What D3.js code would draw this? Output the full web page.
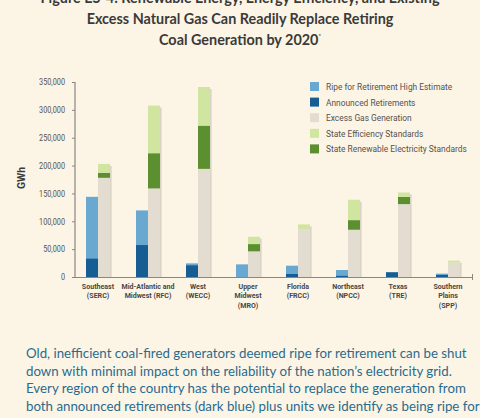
<!DOCTYPE html>
<html>
<head>
<meta charset="utf-8">
<script src="https://cdn.jsdelivr.net/npm/d3@7"></script>
<style>
  html, body { margin: 0; padding: 0; background: #fcf5e6; }
  svg { display: block; }
</style>
</head>
<body>
<div id="chart"></div>
<script>
// regions on the x axis (line breaks as in the figure)
var regions = [
  ["Southeast", "(SERC)"],
  ["Mid-Atlantic and", "Midwest (RFC)"],
  ["West", "(WECC)"],
  ["Upper", "Midwest", "(MRO)"],
  ["Florida", "(FRCC)"],
  ["Northeast", "(NPCC)"],
  ["Texas", "(TRE)"],
  ["Southern", "Plains", "(SPP)"]
];
// GWh
var ripeHigh   = [143900, 119500, 24500, 22700, 20300, 12500, 8400, 6000];
var announced  = [32900, 57300, 20900, 0, 5400, 2000, 8400, 3600];
var excessGas  = [178000, 158900, 194100, 46000, 86000, 84800, 130800, 25700];
var renewable  = [9000, 63300, 77700, 13100, 0, 17300, 13100, 0];
var efficiency = [16000, 85400, 69200, 13200, 8400, 36500, 7800, 3600];
var yTicks = [0, 50000, 100000, 150000, 200000, 250000, 300000, 350000];

var titleLines = [
  "Figure ES-4: Renewable Energy, Energy Efficiency, and Existing",
  "Excess Natural Gas Can Readily Replace Retiring",
  "Coal Generation by 2020"
];
var bodyLines = [
  "Old, inefficient coal-fired generators deemed ripe for retirement can be shut",
  "down with minimal impact on the reliability of the nation\u2019s electricity grid.",
  "Every region of the country has the potential to replace the generation from",
  "both announced retirements (dark blue) plus units we identify as being ripe for"
];

var legendItems = [
  { name: "Ripe for Retirement High Estimate", color: "#69a8d0" },
  { name: "Announced Retirements", color: "#155d93" },
  { name: "Excess Gas Generation", color: "#e3ddd1" },
  { name: "State Efficiency Standards", color: "#cfe5a0" },
  { name: "State Renewable Electricity Standards", color: "#5b8f2f" }
];

var W = 480, H = 418;
var narrow = "Roboto, 'Liberation Sans', sans-serif";
var serifless = "Lato, 'Open Sans', sans-serif";

var svg = d3.select("#chart").append("svg")
  .attr("xmlns", "http://www.w3.org/2000/svg")
  .attr("width", W)
  .attr("height", H);

svg.append("rect").attr("width", W).attr("height", H).attr("fill", "#fcf5e6");

// squeeze text horizontally about its anchor x so it looks condensed
function squeeze(sel, s) {
  sel.each(function() {
    var ax = +(this.getAttribute("x") || 0);
    var first = this.querySelector("tspan");
    if (first && first.getAttribute("x") != null) ax = +first.getAttribute("x");
    d3.select(this).attr("transform", "translate(" + (ax * (1 - s)) + ",0) scale(" + s + ",1)");
  });
}
// font size that makes a sample string a given width
function fitSize(family, weight, sample, width, guess) {
  var t = svg.append("text").attr("font-family", family).attr("font-weight", weight)
    .attr("font-size", guess).text(sample);
  var w = t.node().getComputedTextLength();
  t.remove();
  return guess * width / w;
}
function ratio(family, weight, size, sample, width) {
  var t = svg.append("text").attr("font-family", family).attr("font-weight", weight)
    .attr("font-size", size).text(sample);
  var w = t.node().getComputedTextLength();
  t.remove();
  return width / w;
}

/* title */
var titleSize = fitSize(serifless, "bold", titleLines[1], 307, 15);
var title = svg.append("text")
  .attr("text-anchor", "middle")
  .attr("font-family", serifless)
  .attr("font-weight", "bold")
  .attr("font-size", titleSize)
  .attr("fill", "#3b3a38");
titleLines.forEach(function(t, i) {
  title.append("tspan").attr("x", 240).attr("y", 3 + i * 21).text(t);
});
title.append("tspan").attr("font-size", 6).attr("dy", -7).text("*");

/* scales */
var x = d3.scaleBand().domain(d3.range(regions.length)).range([73, 473]);
var y = d3.scaleLinear().domain([0, 350000]).range([277, 82]);
var barW = 12;

var g = svg.append("g");

// shadows
var shadow = g.append("g").attr("fill", "#000").attr("opacity", 0.13);
regions.forEach(function(r, i) {
  var cx = x(i) + x.bandwidth() / 2;
  var top2 = excessGas[i] + renewable[i] + efficiency[i];
  shadow.append("rect").attr("x", cx + barW).attr("width", 1.6)
    .attr("y", y(top2) + 2).attr("height", y(0) - y(top2) - 2);
  if (ripeHigh[i] > 0) {
    shadow.append("rect").attr("x", cx).attr("width", 0.8)
      .attr("y", y(ripeHigh[i]) + 2).attr("height", Math.max(0, y(0) - y(ripeHigh[i]) - 2));
  }
});

// blue bars: high estimate behind, announced in front
g.selectAll(".ripe").data(ripeHigh).enter().append("rect")
  .attr("x", function(d, i) { return x(i) + x.bandwidth() / 2 - barW; })
  .attr("width", barW)
  .attr("y", function(d) { return y(d); })
  .attr("height", function(d) { return y(0) - y(d); })
  .attr("fill", legendItems[0].color);
g.selectAll(".ann").data(announced).enter().append("rect")
  .attr("x", function(d, i) { return x(i) + x.bandwidth() / 2 - barW; })
  .attr("width", barW)
  .attr("y", function(d) { return y(d); })
  .attr("height", function(d) { return y(0) - y(d); })
  .attr("fill", legendItems[1].color);

// stacked replacement bar
var rows = regions.map(function(r, i) {
  return { gas: excessGas[i], res: renewable[i], eff: efficiency[i] };
});
var stack = d3.stack().keys(["gas", "res", "eff"])(rows);
var stackColor = { gas: legendItems[2].color, res: legendItems[4].color, eff: legendItems[3].color };
g.selectAll(".layer").data(stack).enter().append("g")
  .attr("fill", function(d) { return stackColor[d.key]; })
  .selectAll("rect").data(function(d) { return d; }).enter().append("rect")
  .attr("x", function(d, i) { return x(i) + x.bandwidth() / 2; })
  .attr("width", barW)
  .attr("y", function(d) { return y(d[1]); })
  .attr("height", function(d) { return y(d[0]) - y(d[1]); });

/* axes */
var yAxis = d3.axisLeft(y).tickValues(yTicks).tickSize(3).tickFormat(d3.format(","));
var ya = svg.append("g").attr("transform", "translate(75,0)").call(yAxis);
ya.select(".domain").attr("stroke", "#8a8782").attr("stroke-width", 1.2).attr("d", "M0,82V277");
ya.selectAll(".tick line").attr("stroke", "#8a8782");
var tickTexts = ya.selectAll(".tick text")
  .attr("x", -10)
  .attr("font-family", narrow)
  .attr("font-size", 8.5)
  .attr("fill", "#55524e");
squeeze(tickTexts, ratio(narrow, "normal", 8.5, "350,000", 26));

svg.append("line").attr("x1", 75).attr("x2", 473).attr("y1", 277.5).attr("y2", 277.5)
  .attr("stroke", "#8a8782").attr("stroke-width", 1.2);
svg.append("line").attr("x1", 472.5).attr("x2", 472.5).attr("y1", 274).attr("y2", 280)
  .attr("stroke", "#8a8782");

svg.append("text")
  .attr("transform", "translate(25,178) rotate(-90)")
  .attr("text-anchor", "middle")
  .attr("font-family", narrow)
  .attr("font-weight", "bold")
  .attr("font-size", 10.5)
  .attr("fill", "#3b3a38")
  .text("GWh");

// category labels
var cats = svg.append("g")
  .attr("font-family", narrow)
  .attr("font-weight", "bold")
  .attr("font-size", 8)
  .attr("fill", "#4a4744")
  .attr("text-anchor", "middle");
regions.forEach(function(r, i) {
  var t = cats.append("text");
  r.forEach(function(line, k) {
    t.append("tspan").attr("x", x(i) + x.bandwidth() / 2).attr("y", 289 + k * 9.3).text(line);
  });
});
squeeze(cats.selectAll("text"), ratio(narrow, "bold", 8, "Mid-Atlantic and", 53));

/* legend */
var leg = svg.append("g").attr("transform", "translate(310,82)");
var legS = ratio(narrow, "normal", 9, "State Renewable Electricity Standards", 141);
legendItems.forEach(function(d, i) {
  var row = leg.append("g").attr("transform", "translate(0," + (i * 15.6) + ")");
  row.append("rect").attr("width", 9).attr("height", 9).attr("fill", d.color);
  var t = row.append("text").attr("x", 16).attr("y", 8)
    .attr("font-family", narrow)
    .attr("font-size", 9)
    .attr("fill", "#55524e")
    .text(d.name);
  squeeze(t, legS);
});

/* caption text under the chart */
var bodySize = fitSize(serifless, "normal", bodyLines[0], 441, 14);
var body = svg.append("text")
  .attr("font-family", serifless)
  .attr("font-size", bodySize)
  .attr("fill", "#2a6b8d");
bodyLines.forEach(function(t, i) {
  body.append("tspan").attr("x", 26).attr("y", 358 + i * 17.6).text(t);
});
</script>
</body>
</html>
